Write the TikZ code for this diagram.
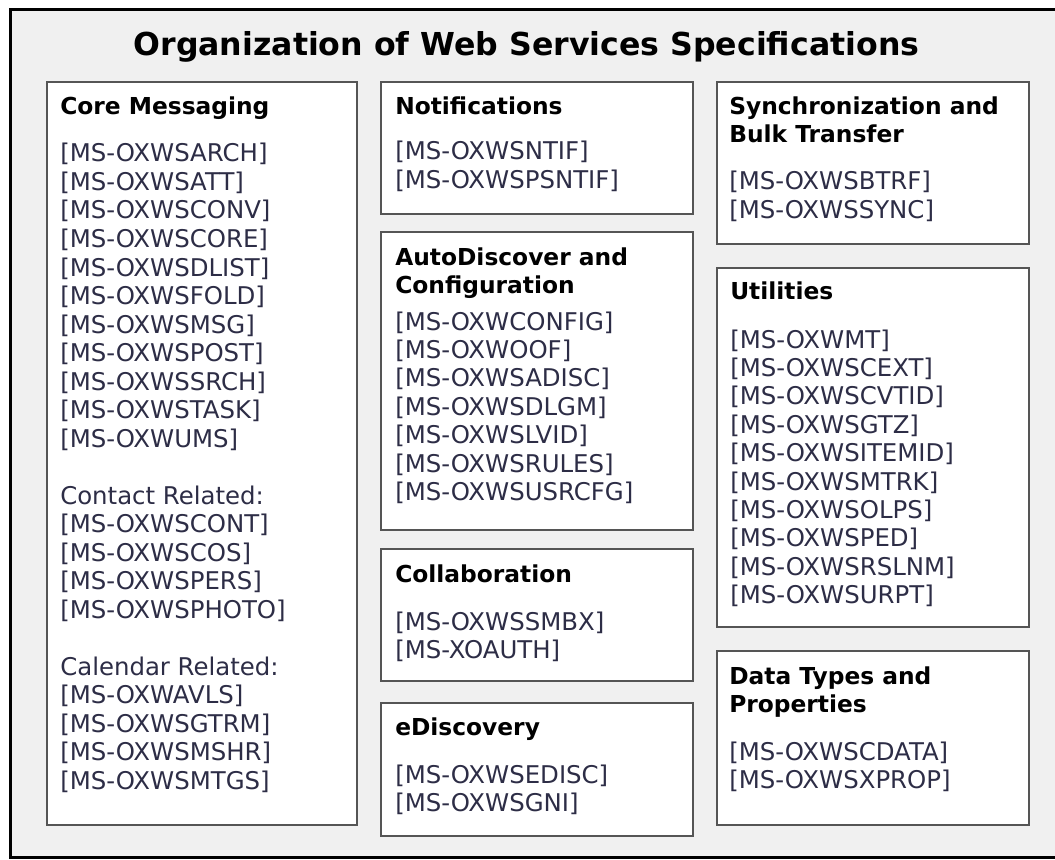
\documentclass[tikz,border=0pt]{standalone}
\usepackage{fontspec}
\setmainfont{DejaVu Sans}
\definecolor{bgc}{RGB}{240,240,240}
\definecolor{boxc}{RGB}{85,85,85}
\definecolor{itc}{RGB}{45,45,70}
\begin{document}
\begin{tikzpicture}[x=0.75pt,y=-0.75pt,
  frame/.style={draw=black,line width=2.25pt,fill=bgc},
  box/.style={draw=boxc,line width=1.9pt,fill=white},
  hd/.style={anchor=base west,inner sep=0pt,font=\fontsize{17.5}{21}\selectfont\bfseries,text=black},
  it/.style={anchor=base west,inner sep=0pt,font=\fontsize{18.3}{21}\selectfont,text=itc},
  ttl/.style={anchor=base,inner sep=0pt,font=\fontsize{23.7}{28}\selectfont\bfseries,text=black}]
\useasboundingbox (0,0) rectangle (1055,859);
\clip (0,0) rectangle (1055,859);
\draw[frame] (10.5,9.5) rectangle (1065,857.5);
\node[ttl] (title) at (526.5,56) {Organization of Web Services Specifications};

% boxes
\draw[box] (47,82) rectangle (357,825);
\draw[box] (381,82) rectangle (693,214);
\draw[box] (381,232) rectangle (693,530);
\draw[box] (381,549) rectangle (693,681);
\draw[box] (381,703) rectangle (693,836);
\draw[box] (717,82) rectangle (1029,244);
\draw[box] (717,268) rectangle (1029,627);
\draw[box] (717,651) rectangle (1029,825);

% Core Messaging
\node[hd] (core-h) at (60,115) {Core Messaging};
\foreach \t [count=\i from 0] in {[MS-OXWSARCH],[MS-OXWSATT],[MS-OXWSCONV],[MS-OXWSCORE],[MS-OXWSDLIST],[MS-OXWSFOLD],[MS-OXWSMSG],[MS-OXWSPOST],[MS-OXWSSRCH],[MS-OXWSTASK],[MS-OXWUMS]}
  \node[it] (core-\i) at (60,{162+28.5*\i}) {\t};
\node[it] (contact-h) at (60,{162+28.5*12}) {Contact Related:};
\foreach \t [count=\i from 13] in {[MS-OXWSCONT],[MS-OXWSCOS],[MS-OXWSPERS],[MS-OXWSPHOTO]}
  \node[it] (contact-\i) at (60,{162+28.5*\i}) {\t};
\node[it] (cal-h) at (60,{162+28.5*18}) {Calendar Related:};
\foreach \t [count=\i from 19] in {[MS-OXWAVLS],[MS-OXWSGTRM],[MS-OXWSMSHR],[MS-OXWSMTGS]}
  \node[it] (cal-\i) at (60,{162+28.5*\i}) {\t};

% Notifications
\node[hd] (notif-h) at (395,115) {Notifications};
\foreach \t [count=\i from 0] in {[MS-OXWSNTIF],[MS-OXWSPSNTIF]}
  \node[it] (notif-\i) at (395,{160+28.4*\i}) {\t};

% AutoDiscover
\node[hd] (auto-h1) at (395,265) {AutoDiscover and};
\node[hd] (auto-h2) at (395,293) {Configuration};
\foreach \t [count=\i from 0] in {[MS-OXWCONFIG],[MS-OXWOOF],[MS-OXWSADISC],[MS-OXWSDLGM],[MS-OXWSLVID],[MS-OXWSRULES],[MS-OXWSUSRCFG]}
  \node[it] (auto-\i) at (395,{330+28.4*\i}) {\t};

% Collaboration
\node[hd] (collab-h) at (395,582) {Collaboration};
\foreach \t [count=\i from 0] in {[MS-OXWSSMBX],[MS-XOAUTH]}
  \node[it] (collab-\i) at (395,{630+28.4*\i}) {\t};

% eDiscovery
\node[hd] (edisc-h) at (395,735) {eDiscovery};
\foreach \t [count=\i from 0] in {[MS-OXWSEDISC],[MS-OXWSGNI]}
  \node[it] (edisc-\i) at (395,{783+28.6*\i}) {\t};

% Synchronization
\node[hd] (sync-h1) at (729,115) {Synchronization and};
\node[hd] (sync-h2) at (729,143) {Bulk Transfer};
\foreach \t [count=\i from 0] in {[MS-OXWSBTRF],[MS-OXWSSYNC]}
  \node[it] (sync-\i) at (729,{190+28.4*\i}) {\t};

% Utilities
\node[hd] (util-h) at (730,299) {Utilities};
\foreach \t [count=\i from 0] in {[MS-OXWMT],[MS-OXWSCEXT],[MS-OXWSCVTID],[MS-OXWSGTZ],[MS-OXWSITEMID],[MS-OXWSMTRK],[MS-OXWSOLPS],[MS-OXWSPED],[MS-OXWSRSLNM],[MS-OXWSURPT]}
  \node[it] (util-\i) at (730,{348+28.4*\i}) {\t};

% Data Types
\node[hd] (data-h1) at (729,684) {Data Types and};
\node[hd] (data-h2) at (729,712) {Properties};
\foreach \t [count=\i from 0] in {[MS-OXWSCDATA],[MS-OXWSXPROP]}
  \node[it] (data-\i) at (729,{760+28.4*\i}) {\t};
\end{tikzpicture}
\end{document}
